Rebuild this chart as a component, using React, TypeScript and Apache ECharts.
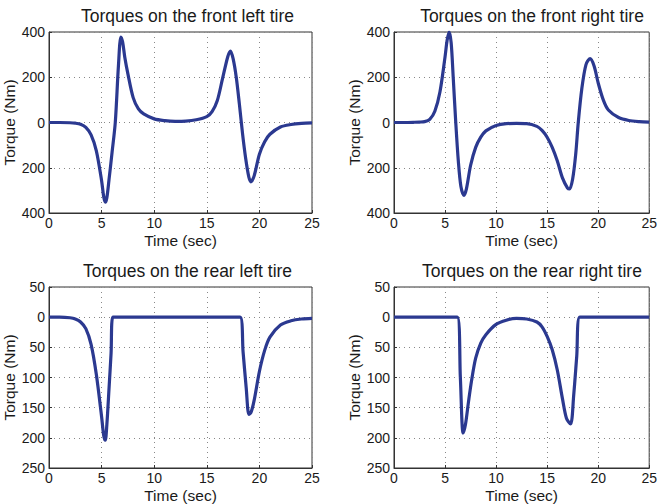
import React, { useEffect, useRef } from "react";
import * as echarts from "echarts";

const titles = [
  "Torques on the front left tire",
  "Torques on the front right tire",
  "Torques on the rear left tire",
  "Torques on the rear right tire",
];

const flT = [0, 1, 2, 2.5, 3, 3.5, 4, 4.5, 5, 5.2, 5.35, 5.5, 5.7, 6, 6.3, 6.6, 6.83, 7.0, 7.2, 7.5, 8, 8.5, 9, 10, 11, 12, 13, 14, 15, 15.5, 16, 16.5, 17, 17.25, 17.5, 17.8, 18.1, 18.4, 18.7, 19, 19.2, 19.5, 20, 20.5, 21, 22, 23, 24, 25];
const flV = [0, 0, -1, -3, -8, -22, -55, -125, -257, -328, -352, -332, -255, -130, 0, 250, 378, 355, 290, 215, 110, 60, 38, 16, 8, 5, 6, 12, 26, 48, 97, 195, 292, 316, 282, 200, 80, -50, -160, -242, -262, -236, -140, -85, -52, -20, -9, -4, -2];

const frT = [0, 1, 2, 2.5, 3, 3.5, 4, 4.5, 5, 5.2, 5.4, 5.6, 5.8, 6.05, 6.3, 6.55, 6.85, 7.1, 7.5, 8, 8.5, 9, 10, 11, 12, 13, 14, 14.5, 15, 15.5, 16, 16.5, 17, 17.2, 17.5, 17.8, 18.05, 18.4, 18.8, 19.2, 19.6, 20, 20.5, 21, 22, 23, 24, 25];
const frV = [0, 0, 1, 2, 4, 14, 50, 135, 290, 362, 400, 352, 200, 0, -170, -282, -322, -292, -190, -110, -65, -37, -13, -5, -4, -5, -17, -35, -65, -110, -170, -245, -290, -294, -250, -140, 0, 150, 255, 282, 250, 175, 100, 55, 22, 9, 4, 2];

const rlT = [0, 1, 2, 2.5, 3, 3.5, 4, 4.5, 5, 5.2, 5.35, 5.5, 5.7, 5.9, 6.07, 7, 10, 15, 18.16, 18.45, 18.75, 19.0, 19.2, 19.5, 20, 20.5, 21, 22, 23, 24, 25];
const rlV = [0, 0, -1, -3, -8, -19, -45, -95, -165, -196, -204, -178, -120, -60, 0, 0, 0, 0, 0, -58, -118, -161, -158, -138, -90, -55, -33, -13, -6, -3, -2];

const rrT = [0, 5, 6.2, 6.5, 6.77, 7.0, 7.3, 7.6, 8, 8.5, 9, 10, 11, 12, 13, 14, 14.5, 15, 15.5, 16, 16.5, 16.9, 17.3, 17.6, 17.9, 18.2, 20, 25];
const rrV = [0, 0, 0, -100, -192, -178, -140, -105, -68, -43, -29, -12, -5, -2, -3, -8, -16, -32, -54, -88, -135, -168, -177, -130, -65, 0, 0, 0];

const xTicks = { min: 0, max: 25, interval: 5 };
const yFront = { min: -400, max: 400, interval: 200 };
const yRear = { min: -250, max: 50, interval: 50 };

const FONT = "Liberation Sans";
const LINE = "#2b3990";

const grids = [
  { left: 49, top: 32, width: 263, height: 181 },
  { left: 394, top: 32, width: 262, height: 181 },
  { left: 49, top: 287, width: 263, height: 182 },
  { left: 394, top: 287, width: 262, height: 182 },
];
const nameGaps = [25, 30, 26, 29];

export default function App() {
  const ref = useRef<HTMLDivElement>(null);
  useEffect(() => {
    if (!ref.current) return;
    const chart = echarts.init(ref.current, undefined, { renderer: "svg" });
    const datasets = [
      [flT, flV],
      [frT, frV],
      [rlT, rlV],
      [rrT, rrV],
    ];
    const option: any = {
      animation: false,
      backgroundColor: "#ffffff",
      title: titles.map((t, i) => ({
        text: t,
        left: grids[i].left + grids[i].width / 2 + 2,
        top: i < 2 ? 2 : 257,
        textAlign: "center",
        textStyle: { fontFamily: FONT, fontSize: 17.5, fontWeight: "normal", color: "#1a1a1a" },
      })),
      grid: grids.map((g) => ({ ...g, show: true, borderColor: "#333", borderWidth: 1, backgroundColor: "transparent" })),
      xAxis: grids.map((_, i) => ({
        type: "value",
        gridIndex: i,
        ...xTicks,
        name: "Time (sec)",
        nameLocation: "middle",
        nameGap: 19,
        nameTextStyle: { fontFamily: FONT, fontSize: 15.5, color: "#1a1a1a" },
        axisLine: { show: true, onZero: false, lineStyle: { color: "#333" } },
        axisTick: { show: true, inside: true, length: 3, lineStyle: { color: "#333" } },
        axisLabel: { fontFamily: FONT, fontSize: 14, color: "#1a1a1a", margin: 3 },
        splitLine: { show: true, lineStyle: { type: [1, 4], color: "#888" } },
      })),
      yAxis: grids.map((_, i) => ({
        type: "value",
        gridIndex: i,
        ...(i < 2 ? yFront : yRear),
        name: "Torque (Nm)",
        nameLocation: "middle",
        nameGap: nameGaps[i],
        nameTextStyle: { fontFamily: FONT, fontSize: 15.5, color: "#1a1a1a" },
        axisLine: { show: true, onZero: false, lineStyle: { color: "#333" } },
        axisTick: { show: true, inside: true, length: 3, lineStyle: { color: "#333" } },
        axisLabel: {
          fontFamily: FONT,
          fontSize: 14,
          color: "#1a1a1a",
          margin: 4,
          formatter: (v: number) => String(Math.abs(v)),
        },
        splitLine: { show: true, lineStyle: { type: [1, 4], color: "#888" } },
      })),
      series: datasets.map(([ts, vs], i) => ({
        type: "line",
        xAxisIndex: i,
        yAxisIndex: i,
        data: ts.map((t, k) => [t, vs[k]]),
        showSymbol: false,
        smooth: 0.3,
        clip: true,
        lineStyle: { color: LINE, width: 3.2 },
        itemStyle: { color: LINE },
      })),
    };
    chart.setOption(option);
    return () => chart.dispose();
  }, []);
  return (
    <div
      ref={ref}
      style={{ position: "fixed", left: 0, top: 0, width: 660, height: 504, background: "#fff" }}
    />
  );
}
